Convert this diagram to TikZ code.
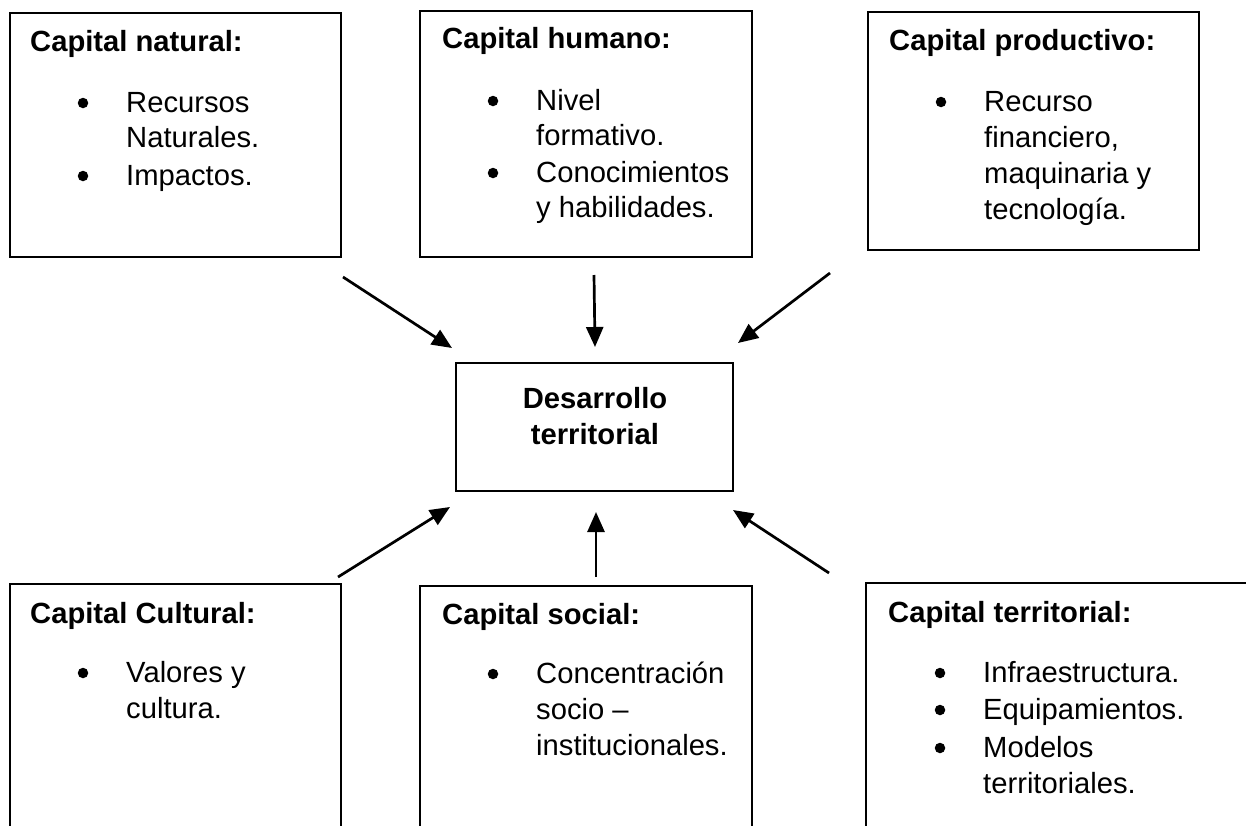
\documentclass[tikz,border=0pt]{standalone}
\usepackage{fontspec}
\setmainfont{Liberation Sans}
\usetikzlibrary{fit,arrows.meta}
\begin{document}
\begin{tikzpicture}[x=1pt,y=-1pt,
 box/.style={draw=black, line width=1.4pt, inner sep=0pt},
 mainbox/.style={draw=black, line width=2.6pt, inner sep=0pt},
 ttl/.style={anchor=base west, inner sep=0pt, font=\fontsize{29.2}{36}\selectfont\bfseries},
 ctl/.style={anchor=base, inner sep=0pt, font=\fontsize{29.2}{36}\selectfont\bfseries},
 txt/.style={anchor=base west, inner sep=0pt, font=\fontsize{29.2}{36}\selectfont},
 bul/.style={circle, fill=black, inner sep=0pt, minimum size=10.5pt, yshift=9pt},
 arr/.style={line width=2.7pt, -{Triangle[length=20pt,width=17pt]}}]
\useasboundingbox (0,0) rectangle (1246,825);
\clip (0,0) rectangle (1246,825);
\fill[white] (0,0) rectangle (1246,825);

% boxes
\node[box, fit={(10,13) (341,257)}] (nat) {};
\node[box, fit={(420,11) (752,257)}] (hum) {};
\node[box, fit={(868,12) (1199,250)}] (pro) {};
\node[box, fit={(10,584) (341,860)}] (cul) {};
\node[box, fit={(420,586) (752,860)}] (soc) {};
\node[box, fit={(866,583) (1280,860)}] (ter) {};
\node[mainbox, fit={(456,363) (733,491)}] (des) {};

% centre text
\node[ctl] (des1) at (595,408) {Desarrollo};
\node[ctl] (des2) at (595,444) {territorial};

% Capital natural
\node[ttl] (natT) at (30,51) {Capital natural:};
\node[bul] (natB1) at (83,112) {};
\node[txt] (nat1) at (126,112) {Recursos};
\node[txt] (nat2) at (126,147) {Naturales.};
\node[bul] (natB2) at (83,185) {};
\node[txt] (nat3) at (126,185) {Impactos.};

% Capital humano
\node[ttl] (humT) at (442,48) {Capital humano:};
\node[bul] (humB1) at (493,110) {};
\node[txt] (hum1) at (536,110) {Nivel};
\node[txt] (hum2) at (536,145) {formativo.};
\node[bul] (humB2) at (493,182) {};
\node[txt] (hum3) at (536,182) {Conocimientos};
\node[txt] (hum4) at (536,217) {y habilidades.};

% Capital productivo
\node[ttl] (proT) at (889,50) {Capital productivo:};
\node[bul] (proB1) at (941,111) {};
\node[txt] (pro1) at (984,111) {Recurso};
\node[txt] (pro2) at (984,147) {financiero,};
\node[txt] (pro3) at (984,183) {maquinaria y};
\node[txt] (pro4) at (984,219) {tecnología.};

% Capital Cultural
\node[ttl] (culT) at (30,623) {Capital Cultural:};
\node[bul] (culB1) at (83,682) {};
\node[txt] (cul1) at (126,682) {Valores y};
\node[txt] (cul2) at (126,718) {cultura.};

% Capital social
\node[ttl] (socT) at (442,624) {Capital social:};
\node[bul] (socB1) at (493,683) {};
\node[txt] (soc1) at (536,683) {Concentración};
\node[txt] (soc2) at (536,719) {socio –};
\node[txt] (soc3) at (536,755) {institucionales.};

% Capital territorial
\node[ttl] (terT) at (888,622) {Capital territorial:};
\node[bul] (terB1) at (940,682) {};
\node[txt] (ter1) at (983,682) {Infraestructura.};
\node[bul] (terB2) at (940,719) {};
\node[txt] (ter2) at (983,719) {Equipamientos.};
\node[bul] (terB3) at (940,757) {};
\node[txt] (ter3) at (983,757) {Modelos};
\node[txt] (ter4) at (983,793) {territoriales.};

% arrow ends
\coordinate (a1s) at (343,277); \coordinate (a1e) at (452,348);
\coordinate (a2s) at (594,275); \coordinate (a2e) at (595,347);
\coordinate (a3s) at (830,273); \coordinate (a3e) at (738,343);
\coordinate (a4s) at (338,577); \coordinate (a4e) at (450,507);
\coordinate (a5s) at (596,577); \coordinate (a5e) at (596,512);
\coordinate (a6s) at (829,573); \coordinate (a6e) at (733,510);

\draw[arr] (a1s) -- (a1e);
\draw[arr] (a2s) -- (a2e);
\draw[arr] (a3s) -- (a3e);
\draw[arr] (a4s) -- (a4e);
\draw[arr] (a5s) -- (a5e);
\draw[arr] (a6s) -- (a6e);
\end{tikzpicture}
\end{document}
